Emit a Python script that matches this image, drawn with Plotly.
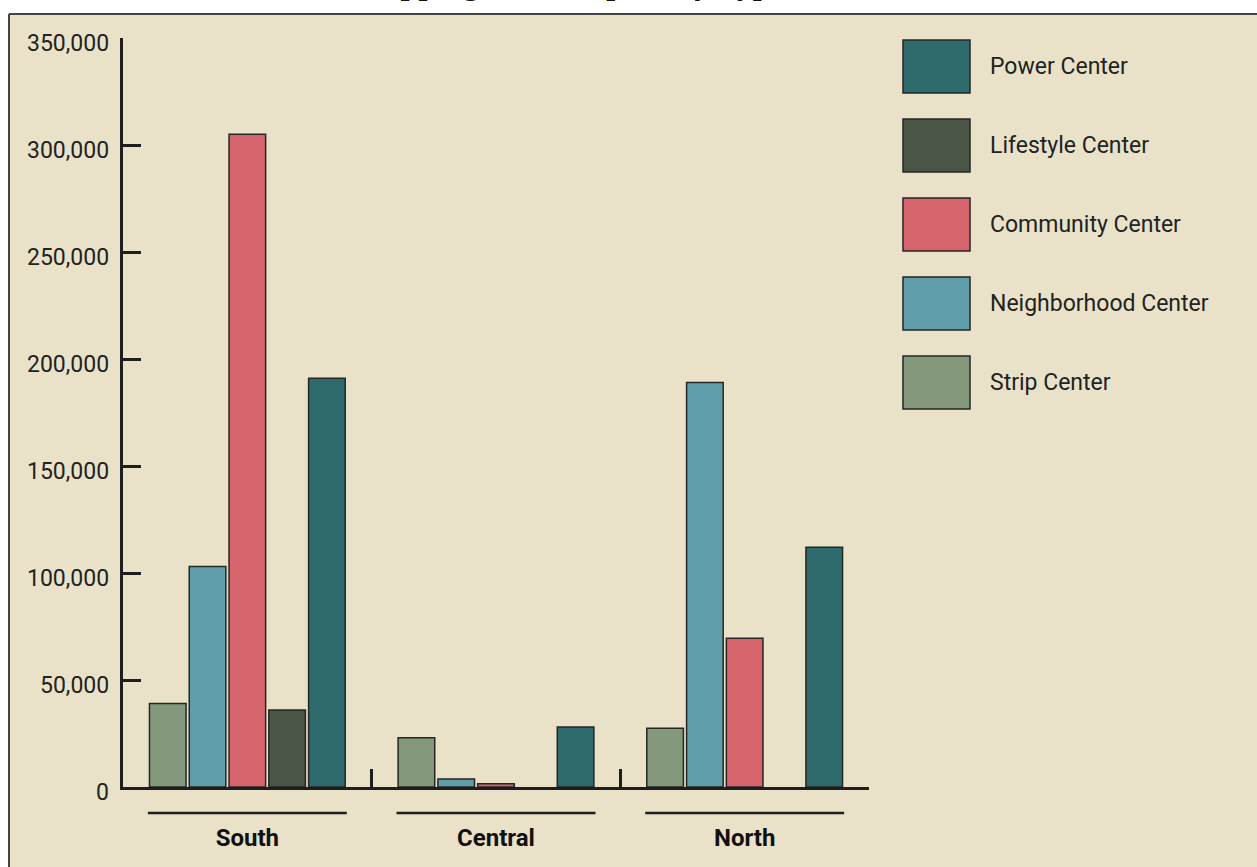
import plotly.graph_objects as go

# Regions (x categories) and shopping-center types (series)
regions = ["South", "Central", "North"]
series_names = ["Strip Center", "Neighborhood Center", "Community Center",
                "Lifestyle Center", "Power Center"]
strip_center = [39000, 23000, 27500]
neighborhood_center = [103000, 3700, 189000]
community_center = [305000, 1500, 69500]
lifestyle_center = [36000, None, None]
power_center = [191000, 28000, 112000]
y_ticks = [0, 50000, 100000, 150000, 200000, 250000, 300000, 350000]

series_values = [strip_center, neighborhood_center, community_center,
                 lifestyle_center, power_center]
series_colors = ["#84997b", "#5f9ea8", "#d5646c", "#4b5546", "#2f6b6c"]

W, H = 1257, 867
M_L, M_R, M_T, M_B = 123, 388, 38, 80
PW, PH = W - M_L - M_R, H - M_T - M_B
BG = "#e9e2c9"
INK = "#1e1e1e"
FONT = "Roboto, Liberation Sans, sans-serif"
BARGAP = 0.2


def px_x(px):
    return (px - M_L) / PW


def px_y(py):
    return (H - M_B - py) / PH


fig = go.Figure()
for name, vals, col in zip(series_names, series_values, series_colors):
    fig.add_trace(go.Bar(
        x=regions, y=vals, name=name,
        marker=dict(color=col, line=dict(color="#262626", width=1.5)),
        showlegend=False,
    ))

shapes = [
    # panel behind the chart, with a dark rule on top and left
    dict(type="rect", xref="paper", yref="paper", layer="below",
         x0=px_x(9), x1=px_x(W + 5), y0=px_y(H + 5), y1=px_y(14),
         fillcolor=BG, line=dict(width=0)),
    dict(type="line", xref="paper", yref="paper", layer="below",
         x0=px_x(9), x1=px_x(W + 5), y0=px_y(14), y1=px_y(14),
         line=dict(color="#444444", width=2)),
    dict(type="line", xref="paper", yref="paper", layer="below",
         x0=px_x(9), x1=px_x(9), y0=px_y(14), y1=px_y(H + 5),
         line=dict(color="#444444", width=2)),
]

# rule under each region's group of bars
half = (1 - BARGAP) / 2
for i, _ in enumerate(regions):
    shapes.append(dict(type="line", xref="x", yref="paper",
                       x0=i - half, x1=i + half, y0=px_y(813), y1=px_y(813),
                       line=dict(color=INK, width=2.5)))

annotations = [
    dict(text="<b>Shopping Center Space by Type</b>", xref="paper", yref="paper",
         x=px_x(567), y=px_y(3), xanchor="center", yanchor="bottom",
         showarrow=False, font=dict(family="Liberation Serif, serif", size=32,
                                    color="#111111")),
]

# y tick labels, set slightly below their tick marks
for v in y_ticks:
    annotations.append(dict(text=f"{v:,}", xref="paper", yref="y",
                            x=px_x(111), y=v, yshift=-5,
                            xanchor="right", yanchor="middle", showarrow=False,
                            font=dict(family=FONT, size=23, color="#222222")))

# legend: large swatches, Power Center on top
box_top0, pitch, box_h = 40, 79, 53
for k, (name, col) in enumerate(zip(series_names[::-1], series_colors[::-1])):
    top = box_top0 + k * pitch
    shapes.append(dict(type="rect", xref="paper", yref="paper",
                       x0=px_x(903), x1=px_x(970), y0=px_y(top + box_h), y1=px_y(top),
                       fillcolor=col, line=dict(color="#262626", width=1.5)))
    annotations.append(dict(text=name, xref="paper", yref="paper",
                            x=px_x(988), y=px_y(top + box_h / 2),
                            xanchor="left", yanchor="middle", showarrow=False,
                            font=dict(family=FONT, size=23, color="#222222")))

fig.update_layout(
    width=W, height=H,
    margin=dict(l=M_L, r=M_R, t=M_T, b=M_B, pad=0),
    paper_bgcolor="white", plot_bgcolor="rgba(0,0,0,0)",
    barmode="group", bargap=BARGAP, bargroupgap=0.08,
    shapes=shapes, annotations=annotations,
    font=dict(family=FONT, color="#222222"),
    xaxis=dict(
        range=[-0.5, 2.5], showline=True, linecolor=INK, linewidth=2.5,
        ticks="inside", tickson="boundaries", ticklen=18, tickwidth=2.5,
        tickcolor=INK, showgrid=False, zeroline=False,
        tickmode="array", tickvals=regions,
        ticktext=["<b>%s</b>" % r for r in regions],
        tickfont=dict(family=FONT, size=24, color="#111111"),
        ticklabelstandoff=27,
    ),
    yaxis=dict(
        range=[0, 350000], showline=True, linecolor=INK, linewidth=2.5,
        ticks="inside", ticklen=18, tickwidth=2.5, tickcolor=INK,
        tickvals=y_ticks, showticklabels=False,
        showgrid=False, zeroline=False,
    ),
)

fig.write_html("out.html")
